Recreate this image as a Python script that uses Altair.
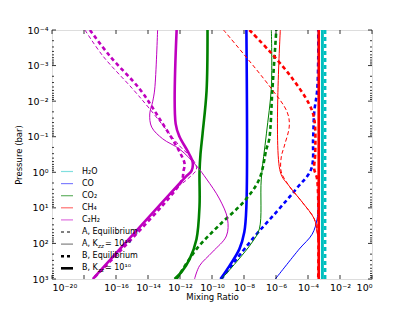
import altair as alt
import pandas as pd

# ---- data: (log10 pressure [bar], log10 mixing ratio) ----
H2O_A_KZZ = [(-4, -3.05), (3, -3.05)]
H2O_B_EQ = [(-4, -2.93), (3, -2.93)]
H2O_B_KZZ = [(-4, -3.11), (3, -3.11)]

CO_A_KZZ = [(3.0, -6.04), (2.16, -4.55), (1.74, -3.74), (1.31, -3.43), (0.75, -3.36), (-4, -3.36)]
CO_B_EQ = [(3.0, -9.41), (1.88, -7.48), (1.12, -5.98), (0.47, -4.74), (-0.09, -3.80),
           (-0.94, -3.68), (-1.69, -3.61), (-2.29, -3.43), (-3.18, -3.36), (-4, -3.36)]
CO_B_KZZ = [(-4, -7.85), (0.95, -7.85), (1.68, -7.98), (2.16, -8.29), (2.63, -8.91), (3.0, -9.47)]

CO2_A_KZZ = [(-4, -6.29), (-2.40, -6.29), (-1.08, -6.60), (0.19, -6.92), (1.59, -7.04),
             (1.96, -7.48), (2.52, -8.47), (3.0, -9.41)]
CO2_B_EQ = [(3.0, -12.21), (2.16, -10.97), (1.51, -9.60), (0.81, -7.98), (0.19, -7.04),
            (-0.65, -6.60), (-0.94, -6.42), (-2.29, -6.23), (-4, -5.98)]
CO2_B_KZZ = [(-4, -10.28), (-2.29, -10.34), (-1.08, -10.59), (-0.51, -10.72), (-0.01, -10.78),
             (0.95, -10.78), (1.88, -10.97), (2.44, -11.40), (2.80, -11.90), (3.0, -12.34)]

CH4_A_EQ = [(-4, -9.28), (-2.43, -6.42), (-1.69, -5.30), (-1.30, -5.17), (-0.74, -5.48),
            (-0.43, -5.67), (-0.01, -5.67), (0.39, -5.17), (0.84, -4.36), (1.31, -3.61),
            (1.68, -3.43), (2.16, -3.30), (3.0, -3.30)]
CH4_A_KZZ = [(-4, -5.73), (-0.01, -5.73), (0.39, -5.17), (0.84, -4.36), (1.31, -3.61),
             (1.68, -3.43), (2.16, -3.30), (3.0, -3.30)]
CH4_B_EQ = [(-4, -7.66), (-3.41, -6.42), (-2.68, -5.05), (-1.92, -3.93), (-1.50, -3.61),
            (-0.51, -3.55), (-0.09, -3.61), (0.19, -3.43), (3.0, -3.36)]
CH4_B_KZZ = [(-4, -3.33), (3, -3.33)]

C2H2_A_EQ = [(-4, -17.94), (-3.27, -16.82), (-2.34, -14.95), (-1.78, -13.89), (-0.74, -12.02),
             (-0.37, -11.21), (-0.09, -10.97), (0.19, -11.53), (0.47, -12.27), (3.0, -17.45)]
C2H2_A_KZZ = [(-4, -13.40), (-2.34, -13.58), (-1.98, -13.71), (-1.64, -13.89), (-1.27, -13.77),
              (-0.94, -13.08), (-0.65, -12.02), (-0.18, -10.97), (0.19, -10.34), (0.75, -9.53),
              (1.31, -9.03), (1.79, -9.10), (2.24, -9.97), (2.63, -10.78), (3.0, -11.09)]
C2H2_B_EQ = [(-4, -17.63), (-3.27, -16.39), (-2.34, -14.52), (-1.50, -13.27), (-0.57, -12.02),
             (-0.23, -11.71), (-0.04, -11.78), (0.27, -11.93), (3.0, -17.45)]
C2H2_B_KZZ = [(-4, -12.21), (-1.36, -12.27), (-0.99, -12.02), (-0.60, -11.53), (-0.29, -11.21),
              (-0.04, -11.28), (0.13, -11.65), (3.0, -17.45)]

SPECIES = ["H₂O", "CO", "CO₂", "CH₄", "C₂H₂"]
COLORS = ["#00BFBF", "#0000FF", "#008000", "#FF0000", "#BF00BF"]
LEGEND_COLORS = ["#80DFDF", "#8080FF", "#66B366", "#FF7070", "#DF70DF"]
CASES = ["A, Equilibrium", "A, Kzz", "B, Equilibrium", "B, Kzz"]

SERIES = [
    (0, 1, H2O_A_KZZ), (0, 2, H2O_B_EQ), (0, 3, H2O_B_KZZ),
    (1, 1, CO_A_KZZ), (1, 2, CO_B_EQ), (1, 3, CO_B_KZZ),
    (2, 1, CO2_A_KZZ), (2, 2, CO2_B_EQ), (2, 3, CO2_B_KZZ),
    (3, 0, CH4_A_EQ), (3, 1, CH4_A_KZZ), (3, 2, CH4_B_EQ), (3, 3, CH4_B_KZZ),
    (4, 0, C2H2_A_EQ), (4, 1, C2H2_A_KZZ), (4, 2, C2H2_B_EQ), (4, 3, C2H2_B_KZZ),
]

X_TICKS = [-20, -18, -16, -14, -12, -10, -8, -6, -4, -2, 0]
Y_TICKS = [-4, -3, -2, -1, 0, 1, 2, 3]

W, H = 320, 249
FONT = "DejaVu Sans"

SUP = str.maketrans("-0123456789", "⁻⁰¹²³⁴⁵⁶⁷⁸⁹")


def label_expr(exps):
    expr = "''"
    for e in exps:
        lab = "10" + str(e).translate(SUP)
        expr = f"round(log(datum.value)/LN10) == {e} ? '{lab}' : ({expr})"
    return expr


xscale = alt.Scale(type="log", domain=[1e-20, 1], nice=False)
yscale = alt.Scale(type="log", domain=[1e-4, 1e3], nice=False, reverse=True)

xaxis = alt.Axis(values=[10.0 ** e for e in X_TICKS], labelExpr=label_expr(X_TICKS),
                 ticks=False, domain=False, grid=False, labelFont=FONT, labelFontSize=9.5,
                 labelPadding=3, labelColor="black", title="Mixing Ratio", titleFont=FONT,
                 titleFontSize=8.5, titleFontWeight="normal", titleColor="black", titlePadding=1)
yaxis = alt.Axis(values=[10.0 ** e for e in Y_TICKS], labelExpr=label_expr(Y_TICKS),
                 ticks=False, domain=False, grid=False, labelFont=FONT, labelFontSize=9.5,
                 labelPadding=4, labelColor="black", title="Pressure (bar)", titleFont=FONT,
                 titleFontSize=8.5, titleFontWeight="normal", titleColor="black", titlePadding=4)

X = lambda f: alt.X(f, type="quantitative", scale=xscale, axis=xaxis)
Y = lambda f: alt.Y(f, type="quantitative", scale=yscale, axis=yaxis)

STYLE = {
    0: dict(strokeWidth=1.0, strokeDash=[4, 2.5]),
    1: dict(strokeWidth=1.0),
    2: dict(strokeWidth=2.6, strokeDash=[4, 3]),
    3: dict(strokeWidth=2.6),
}

layers = []
for sp, case, pts in SERIES:
    df = pd.DataFrame({
        "i": list(range(len(pts))),
        "p": [10.0 ** a for a, b in pts],
        "x": [10.0 ** b for a, b in pts],
    })
    layers.append(
        alt.Chart(df).mark_line(color=COLORS[sp], clip=True, interpolate="catmull-rom",
                                **STYLE[case])
        .encode(x=X("x"), y=Y("p"), order="i:Q")
    )

# inward tick marks (matplotlib style)
xt = pd.DataFrame({"v": [10.0 ** e for e in X_TICKS]})
ytm = pd.DataFrame({"v": [10.0 ** e for e in Y_TICKS]})
ytn = pd.DataFrame({"v": [k * 10.0 ** e for e in Y_TICKS[:-1] for k in range(2, 10)]})
tick = dict(color="black", strokeWidth=0.8)
layers += [
    alt.Chart(xt).mark_rule(**tick).encode(x=X("v"), y=alt.value(H), y2=alt.value(H - 4)),
    alt.Chart(xt).mark_rule(**tick).encode(x=X("v"), y=alt.value(0), y2=alt.value(4)),
    alt.Chart(ytm).mark_rule(**tick).encode(y=Y("v"), x=alt.value(0), x2=alt.value(4)),
    alt.Chart(ytm).mark_rule(**tick).encode(y=Y("v"), x=alt.value(W), x2=alt.value(W - 4)),
    alt.Chart(ytn).mark_rule(**tick).encode(y=Y("v"), x=alt.value(0), x2=alt.value(2)),
    alt.Chart(ytn).mark_rule(**tick).encode(y=Y("v"), x=alt.value(W), x2=alt.value(W - 2)),
]

# legend (drawn inside the plot, lower left)
dummy = pd.DataFrame({"a": [0]})
LX1, LX2, TX, LY0, LDY = 9, 21, 30, 141.5, 12.1
for k, name in enumerate(SPECIES):
    yy = LY0 + k * LDY
    layers.append(alt.Chart(dummy).mark_rule(color=LEGEND_COLORS[k], strokeWidth=1.2)
                  .encode(x=alt.value(LX1), x2=alt.value(LX2), y=alt.value(yy)))
    layers.append(alt.Chart(dummy).mark_text(text=name, align="left", baseline="middle",
                                             font=FONT, fontSize=8, color="black")
                  .encode(x=alt.value(TX), y=alt.value(yy)))
LEG_STYLE = [
    dict(color="black", strokeWidth=1.0, strokeDash=[3, 3]),
    dict(color="#808080", strokeWidth=1.2),
    dict(color="black", strokeWidth=2.6, strokeDash=[3, 3]),
    dict(color="black", strokeWidth=2.6),
]
for k, case in enumerate(CASES):
    yy = LY0 + (5 + k) * LDY
    layers.append(alt.Chart(dummy).mark_rule(**LEG_STYLE[k])
                  .encode(x=alt.value(LX1), x2=alt.value(LX2), y=alt.value(yy)))
    if "Kzz" in case:
        head = case.split("Kzz")[0] + "K"
        layers.append(alt.Chart(dummy).mark_text(text=head, align="left", baseline="middle",
                                                 font=FONT, fontSize=8, color="black")
                      .encode(x=alt.value(TX), y=alt.value(yy)))
        layers.append(alt.Chart(dummy).mark_text(text="zz", align="left", baseline="middle",
                                                 font=FONT, fontSize=5.5, fontStyle="italic",
                                                 color="black")
                      .encode(x=alt.value(TX + 16), y=alt.value(yy + 2)))
        layers.append(alt.Chart(dummy).mark_text(text="= 10¹⁰", align="left", baseline="middle",
                                                 font=FONT, fontSize=8, color="black")
                      .encode(x=alt.value(TX + 23), y=alt.value(yy)))
    else:
        layers.append(alt.Chart(dummy).mark_text(text=case, align="left", baseline="middle",
                                                 font=FONT, fontSize=8, color="black")
                      .encode(x=alt.value(TX), y=alt.value(yy)))

chart = (
    alt.layer(*layers)
    .properties(width=W, height=H, autosize=alt.AutoSizeParams(type="none"),
                padding={"left": 44, "top": 22, "right": 30, "bottom": 25})
    .configure_view(stroke="black", strokeWidth=1)
    .configure(background="white")
)

chart.save("out.html", embed_options={"renderer": "svg", "actions": False})
